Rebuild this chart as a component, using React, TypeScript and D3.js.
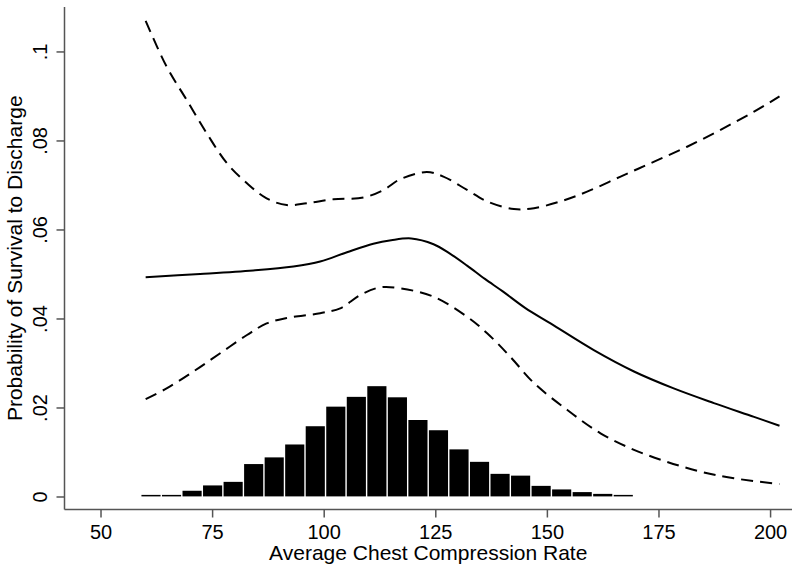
import React from "react";
import * as d3 from "d3";

const xTicks = [50, 75, 100, 125, 150, 175, 200];
const yTicks = [0, 0.02, 0.04, 0.06, 0.08, 0.1];
const yTickLabels = ["0", ".02", ".04", ".06", ".08", ".1"];

const histStart = 58.9;
const histBinWidth = 4.6;
const histHeights = [0.0003, 0.0003, 0.0014, 0.0026, 0.0034, 0.0074, 0.0089, 0.0118, 0.0159, 0.0203, 0.0225, 0.0249, 0.0224, 0.0173, 0.015, 0.0107, 0.0079, 0.0052, 0.0048, 0.0025, 0.0017, 0.0011, 0.0007, 0.0004];

const upperX = [60, 64.7, 69.2, 73.7, 78.2, 82.7, 87.1, 91.6, 96.1, 102.1, 108.8, 113.3, 117, 123, 126.7, 132, 136.5, 142.5, 147, 152.9, 158.9, 166.4, 173.8, 181.3, 188.8, 196.3, 202];
const upperY = [0.107, 0.0967, 0.0892, 0.0817, 0.075, 0.0705, 0.0671, 0.0656, 0.066, 0.0669, 0.0673, 0.069, 0.0714, 0.073, 0.072, 0.069, 0.0664, 0.0647, 0.0649, 0.0664, 0.0686, 0.072, 0.0753, 0.0787, 0.0825, 0.0866, 0.09];

const fitX = [60, 72.2, 84.1, 93.1, 99.1, 105.1, 111, 115, 119.5, 124.5, 128, 132, 136, 140, 145, 150.7, 160.4, 169.4, 178.3, 187.3, 196.3, 202];
const fitY = [0.0494, 0.0501, 0.0509, 0.0518, 0.0529, 0.055, 0.0569, 0.0577, 0.0581, 0.0568, 0.0548, 0.052, 0.049, 0.0462, 0.0425, 0.039, 0.033, 0.0282, 0.0244, 0.0211, 0.018, 0.016];

const lowerX = [60, 64.7, 70.7, 76.7, 82.7, 87.1, 91.6, 99.1, 103.6, 108.1, 112.5, 117, 124.5, 132, 136.5, 141.7, 147, 154.4, 161.9, 169.4, 176.8, 184.3, 191.8, 202];
const lowerY = [0.022, 0.0244, 0.0282, 0.0323, 0.0364, 0.039, 0.0402, 0.0413, 0.0424, 0.0454, 0.0471, 0.0469, 0.045, 0.0405, 0.0368, 0.0315, 0.0256, 0.0196, 0.0143, 0.0106, 0.0079, 0.0057, 0.0042, 0.0029];

const W = 800;
const H = 573;
const left = 64.5;
const right = 792;
const top = 7;
const bottom = 509.5;

export default function App() {
  const x = d3.scaleLinear().domain([41.82, 204.8]).range([left, right]);
  const y = d3.scaleLinear().domain([-0.00281, 0.1101]).range([bottom, top]);

  const line = d3
    .line<[number, number]>()
    .x((d) => x(d[0]))
    .y((d) => y(d[1]))
    .curve(d3.curveCatmullRom.alpha(0.5));

  const zip = (a: number[], b: number[]) => a.map((v, i) => [v, b[i]] as [number, number]);

  const font = "'Liberation Sans', Arial, Helvetica, sans-serif";
  const axisColor = "#555";

  return (
    <svg
      width={W}
      height={H}
      style={{ position: "absolute", left: 0, top: 0, background: "#fff" }}
      fontFamily={font}
    >
      <rect x={0} y={0} width={W} height={H} fill="#fff" />
      {histHeights.map((h, i) => {
        const x0 = x(histStart + i * histBinWidth);
        const x1 = x(histStart + (i + 1) * histBinWidth);
        const base = y(0) - 0.6;
        const hh = Math.max(1.5, base - y(h));
        return (
          <rect
            key={i}
            x={x0 + 0.7}
            y={base - hh}
            width={x1 - x0 - 1.4}
            height={hh}
            fill="#000"
          />
        );
      })}
      <path d={line(zip(upperX, upperY)) || ""} fill="none" stroke="#000" strokeWidth={2} strokeDasharray="12,7" />
      <path d={line(zip(lowerX, lowerY)) || ""} fill="none" stroke="#000" strokeWidth={2} strokeDasharray="12,7" />
      <path d={line(zip(fitX, fitY)) || ""} fill="none" stroke="#000" strokeWidth={2} />

      {/* y axis */}
      <line x1={left} x2={left} y1={top} y2={bottom} stroke={axisColor} strokeWidth={1.5} />
      {yTicks.map((t, i) => (
        <g key={t}>
          <line x1={left - 8} x2={left} y1={y(t)} y2={y(t)} stroke={axisColor} strokeWidth={1.5} />
          <text
            transform={`translate(47,${y(t)}) rotate(-90)`}
            textAnchor="middle"
            fontSize={20}
            fill="#000"
          >
            {yTickLabels[i]}
          </text>
        </g>
      ))}
      <text
        transform={`translate(22,${(top + bottom) / 2}) rotate(-90)`}
        textAnchor="middle"
        fontSize={21}
        fill="#000"
      >
        Probability of Survival to Discharge
      </text>

      {/* x axis */}
      <line x1={left} x2={right} y1={bottom} y2={bottom} stroke={axisColor} strokeWidth={1.5} />
      {xTicks.map((t) => (
        <g key={t}>
          <line x1={x(t)} x2={x(t)} y1={bottom} y2={bottom + 8} stroke={axisColor} strokeWidth={1.5} />
          <text x={x(t)} y={538.5} textAnchor="middle" fontSize={20} fill="#000">
            {t}
          </text>
        </g>
      ))}
      <text x={(left + right) / 2} y={559.5} textAnchor="middle" fontSize={21} fill="#000">
        Average Chest Compression Rate
      </text>
    </svg>
  );
}
